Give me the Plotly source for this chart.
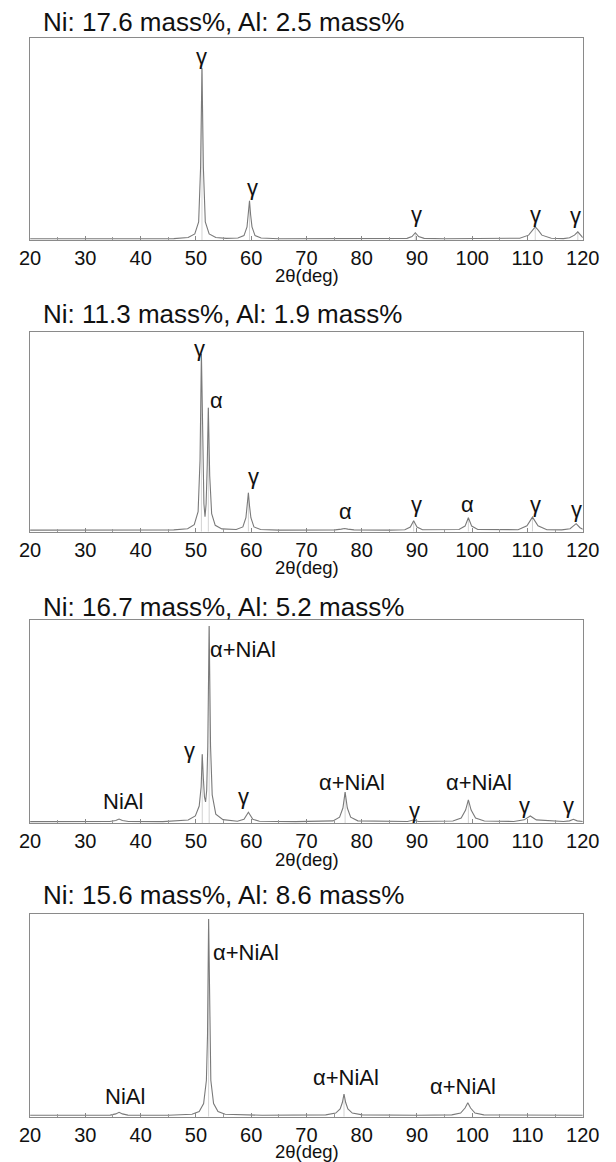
import plotly.graph_objects as go

# ---------------- data (2θ in deg, intensity in % of panel height) ----------------
titles = ["Ni: 17.6 mass%, Al: 2.5 mass%",
          "Ni: 11.3 mass%, Al: 1.9 mass%",
          "Ni: 16.7 mass%, Al: 5.2 mass%",
          "Ni: 15.6 mass%, Al: 8.6 mass%"]

tick_vals = [20, 30, 40, 50, 60, 70, 80, 90, 100, 110, 120]
tick_text = ["20", "30", "40", "50", "60", "70", "80", "90", "100", "110", "120"]
x_label = "2θ(deg)"

# panel 1 pattern
x1 = [20, 30, 40, 46, 48.6, 49.8, 50.5, 50.85, 51.1, 51.35, 51.7, 52.4, 53.6, 55.5,
      57.6, 58.7, 59.25, 59.5, 59.7, 59.9, 60.15, 60.7, 61.8, 65, 75, 85,
      88.2, 89.1, 89.7, 90.3, 91.3, 95, 105,
      108.6, 110.2, 110.9, 111.4, 111.9, 112.6, 114.3, 116.5,
      117.6, 118.5, 119.1, 119.6, 120]
y1 = [0.6, 0.6, 0.6, 0.7, 1.2, 3.0, 9.0, 36, 85, 36, 9.0, 3.0, 1.2, 0.8,
      1.0, 2.2, 6.5, 12.5, 19.4, 12.5, 6.5, 2.2, 1.0, 0.6, 0.6, 0.6,
      0.8, 1.7, 3.6, 1.7, 0.8, 0.6, 0.6,
      0.9, 2.4, 5.0, 6.5, 5.0, 2.4, 0.9, 0.7,
      1.1, 2.4, 4.0, 2.2, 1.2]

# panel 2 pattern
x2 = [20, 30, 40, 46, 48.5, 49.7, 50.4, 50.75, 51.0, 51.2, 51.45, 51.65, 51.85, 52.05,
      52.25, 52.5, 52.85, 53.5, 54.7, 57.3, 58.5, 59.05, 59.3, 59.5, 59.7, 59.95,
      60.5, 61.7, 65, 72, 75.2, 76.3, 76.9, 77.5, 78.6, 85,
      87.8, 88.8, 89.4, 90.0, 91.0, 97.6, 98.7, 99.3, 99.9, 101.0, 106,
      108.3, 109.9, 110.9, 111.9, 113.5, 116.2, 117.7, 118.8, 119.5, 120]
y2 = [0.8, 0.8, 0.8, 0.9, 1.5, 3.5, 10, 36, 89, 44, 14, 7.5, 14, 33,
      62, 28, 9.0, 3.2, 1.4, 1.1, 2.4, 7.0, 13, 19.5, 13, 7.0,
      2.4, 1.1, 0.8, 0.8, 0.9, 1.3, 1.6, 1.3, 0.9, 0.8,
      1.0, 2.3, 5.5, 2.3, 1.0, 1.1, 2.8, 7.0, 2.8, 1.1, 0.8,
      1.0, 3.0, 7.3, 3.0, 1.0, 0.9, 1.5, 4.0, 2.0, 1.2]

# panel 3 pattern
x3 = [20, 30, 34.4, 35.5, 36.1, 36.7, 37.8, 44, 48.6, 49.9, 50.6, 50.95, 51.15,
      51.35, 51.55, 51.75, 51.95, 52.15, 52.4, 52.65, 52.95, 53.6, 54.9,
      57.5, 58.7, 59.5, 60.3, 61.5, 68, 74.8, 76.0, 76.6, 77.0, 77.4, 78.0, 79.3,
      86, 88.3, 89.3, 90.3, 96.5, 98.0, 98.8, 99.3, 99.8, 100.6, 102.2,
      107.5, 109.4, 110.5, 111.6, 116.5, 117.6, 118.3, 119.0, 120]
y3 = [0.8, 0.8, 0.9, 1.4, 2.1, 1.4, 0.9, 0.8, 1.6, 3.6, 8.5, 18, 34,
      22, 13, 10.5, 16, 38, 97, 38, 14, 4.5, 1.8,
      1.0, 2.0, 5.4, 2.0, 1.0, 0.8, 1.2, 3.0, 7.5, 15.3, 7.5, 3.0, 1.2,
      0.8, 0.9, 1.6, 0.9, 1.1, 2.6, 6.5, 11.5, 6.5, 2.6, 1.1,
      0.9, 1.7, 3.6, 1.7, 0.9, 1.2, 2.0, 1.2, 0.9]

# panel 4 pattern
x4 = [20, 30, 34.5, 35.5, 36.1, 36.7, 37.7, 45, 49.3, 50.6, 51.4, 51.9, 52.1, 52.3,
      52.5, 52.7, 53.2, 54.0, 55.3, 62, 73.5, 75.3, 76.1, 76.5, 76.8, 77.1, 77.5,
      78.3, 80.1, 86, 87.9, 90, 96.3, 97.9, 98.7, 99.2, 99.7, 100.5, 102.1, 110, 120]
y4 = [0.7, 0.7, 0.8, 1.4, 2.2, 1.4, 0.8, 0.7, 1.2, 2.6, 6.5, 18, 40, 97.7,
      40, 18, 6.5, 2.6, 1.2, 0.7, 0.9, 1.8, 3.8, 7.0, 11.1, 7.0, 3.8,
      1.8, 0.9, 0.7, 1.0, 0.7, 0.9, 1.8, 4.3, 6.9, 4.3, 1.8, 0.9, 0.7, 0.7]

# peak positions / heights (centre marks)
pk1_pos = [51.1, 59.7, 89.7, 111.4, 119.1]
pk1_h = [85, 19.4, 3.6, 6.5, 4.0]
pk2_pos = [51.0, 52.25, 59.5, 89.4, 99.3, 110.9]
pk2_h = [89, 62, 19.5, 5.5, 7.0, 7.3]
pk3_pos = [51.15, 52.4, 77.0, 99.3]
pk3_h = [34, 97, 15.3, 11.5]
pk4_pos = [52.3, 76.8]
pk4_h = [97.7, 11.1]

# phase labels
lab1_text = ["γ", "γ", "γ", "γ", "γ"]
lab1_x = [51.0, 60.3, 89.9, 111.4, 118.6]
lab1_y = [91, 26, 12.4, 12.4, 12.0]

lab2_text = ["γ", "α", "γ", "α", "γ", "α", "γ", "γ"]
lab2_x = [50.7, 53.8, 60.5, 77.1, 90.0, 99.1, 111.5, 118.9]
lab2_y = [91.5, 65.5, 27.5, 10, 13.4, 13.4, 13.4, 11]

lab3_text = ["NiAl", "γ", "α+NiAl", "γ", "α+NiAl", "γ", "α+NiAl", "γ", "γ"]
lab3_x = [36.9, 48.9, 58.6, 58.7, 78.3, 89.6, 101.2, 109.4, 117.5]
lab3_y = [10.6, 36, 85.4, 13.1, 20, 6.5, 20, 9, 9]

lab4_text = ["NiAl", "α+NiAl", "α+NiAl", "α+NiAl"]
lab4_x = [37.1, 59.0, 77.2, 98.4]
lab4_y = [9.9, 80.9, 19.5, 14.9]

# ---------------- layout geometry ----------------
W, H = 616, 1162
FONT = "Liberation Sans, Arial, sans-serif"
x_dom = [20 / W, 599 / W]
# (top px, bottom px) for each panel frame
frames = [(38, 240), (331.7, 531.7), (620, 823.3), (914.3, 1116.7)]
title_y = [22, 314, 607, 895]
xlabel_gap = [36, 36, 36, 35]

panels = [
    (x1, y1, pk1_pos, pk1_h, lab1_text, lab1_x, lab1_y),
    (x2, y2, pk2_pos, pk2_h, lab2_text, lab2_x, lab2_y),
    (x3, y3, pk3_pos, pk3_h, lab3_text, lab3_x, lab3_y),
    (x4, y4, pk4_pos, pk4_h, lab4_text, lab4_x, lab4_y),
]

fig = go.Figure()
annotations = []
layout_axes = {}

for i, (xs, ys, ppos, ph, lt, lx, ly) in enumerate(panels, start=1):
    xa = "x" if i == 1 else f"x{i}"
    ya = "y" if i == 1 else f"y{i}"
    # centre marks
    sx, sy = [], []
    for p, h in zip(ppos, ph):
        sx += [p, p, None]
        sy += [0, h, None]
    fig.add_trace(go.Scatter(x=sx, y=sy, mode="lines", xaxis=xa, yaxis=ya,
                             line=dict(color="#c8c8c8", width=0.8),
                             showlegend=False, hoverinfo="skip"))
    fig.add_trace(go.Scatter(x=xs, y=ys, mode="lines", xaxis=xa, yaxis=ya,
                             line=dict(color="#7a7a7a", width=1.1),
                             showlegend=False))
    top, bot = frames[i - 1]
    ydom = [1 - bot / H, 1 - top / H]
    axkey = "xaxis" if i == 1 else f"xaxis{i}"
    aykey = "yaxis" if i == 1 else f"yaxis{i}"
    layout_axes[axkey] = dict(
        domain=x_dom, anchor=ya, range=[20, 120],
        tickmode="array", tickvals=tick_vals, ticktext=tick_text,
        ticks="inside", ticklen=4, tickcolor="#888", tickwidth=1,
        minor=dict(tickmode="linear", tick0=25, dtick=10, ticks="inside",
                   ticklen=3, tickcolor="#999", showgrid=False),
        showline=True, mirror=True, linecolor="#8a8a8a", linewidth=1.2,
        showgrid=False, zeroline=False, ticklabeloverflow="allow",
        tickfont=dict(family=FONT, size=20, color="#111"),
    )
    layout_axes[aykey] = dict(
        domain=ydom, anchor=xa, range=[0, 100],
        showticklabels=False, ticks="", showline=True, mirror=True,
        linecolor="#8a8a8a", linewidth=1.2, showgrid=False, zeroline=False,
    )
    # phase labels
    for t, xx, yy in zip(lt, lx, ly):
        annotations.append(dict(text=t, x=xx, y=yy, xref=xa, yref=ya,
                                showarrow=False, xanchor="center", yanchor="middle",
                                font=dict(family=FONT, size=22, color="#111")))
    # panel title
    annotations.append(dict(text=titles[i - 1], x=31 / W, y=1 - title_y[i - 1] / H,
                            xref="paper", yref="paper", showarrow=False,
                            xanchor="left", yanchor="middle",
                            font=dict(family=FONT, size=26, color="#111")))
    # x-axis title
    annotations.append(dict(text=x_label, x=310 / W, y=1 - (bot + xlabel_gap[i - 1]) / H,
                            xref="paper", yref="paper", showarrow=False,
                            xanchor="center", yanchor="middle",
                            font=dict(family=FONT, size=18.5, color="#111")))

fig.update_layout(
    width=W, height=H, margin=dict(l=0, r=0, t=0, b=0),
    paper_bgcolor="white", plot_bgcolor="white",
    annotations=annotations, showlegend=False,
    **layout_axes,
)

fig.write_html(
    "out.html",
    config={"displayModeBar": False},
    post_script="document.body.style.margin='0';document.body.style.padding='0';"
                "document.body.style.overflow='hidden';"
                "document.documentElement.style.overflow='hidden';",
)
